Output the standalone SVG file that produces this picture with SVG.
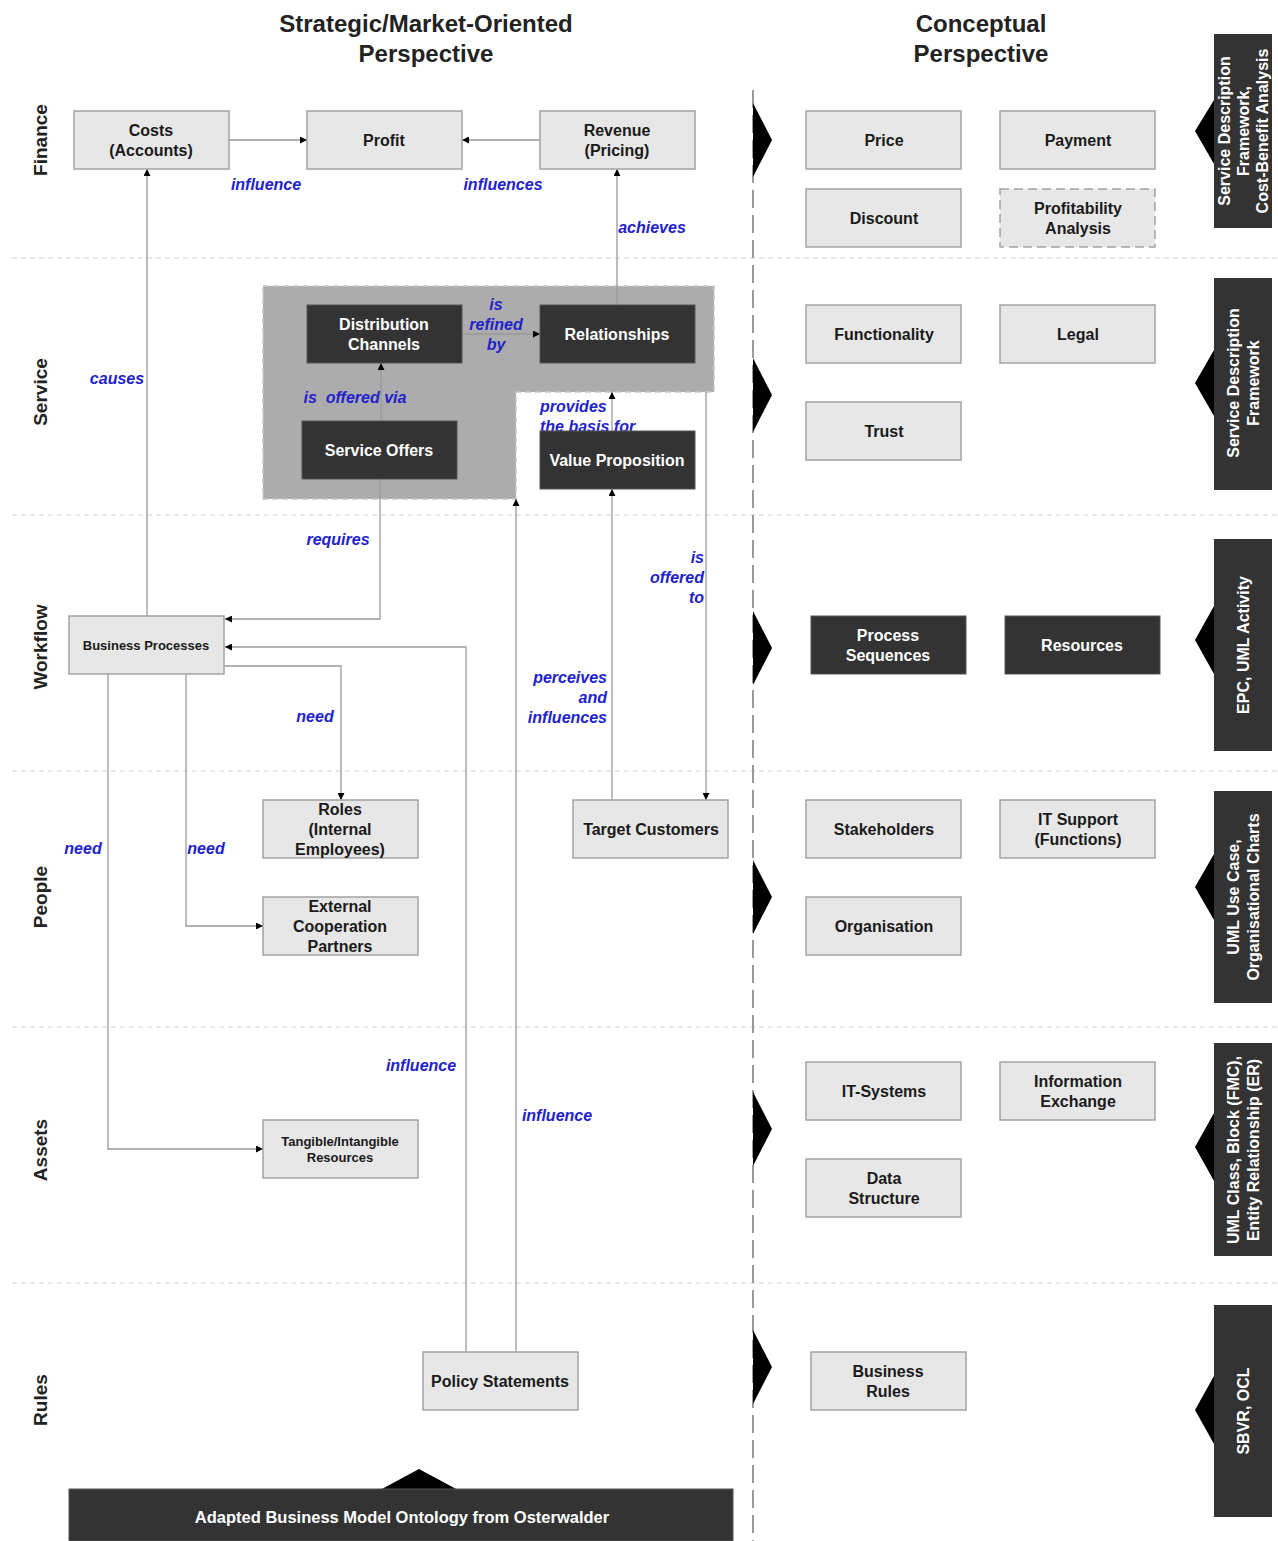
<svg xmlns="http://www.w3.org/2000/svg" width="1278" height="1541" viewBox="0 0 1278 1541">
<style>
text{font-family:"Liberation Sans",Arial,sans-serif;font-weight:bold}
.title{font-size:24px;fill:#222;text-anchor:middle}
.row{font-size:19px;fill:#222;text-anchor:middle;dominant-baseline:central}
.lb rect{fill:#e7e7e7;stroke:#a3a3a3;stroke-width:1.5}
.lb text{font-size:16px;fill:#1a1a1a;text-anchor:middle;dominant-baseline:central}
.db rect{fill:#333333;stroke:#555;stroke-width:1}
.db text{font-size:16px;fill:#ffffff;text-anchor:middle;dominant-baseline:central}
.tool rect{fill:#333333}
.tool text{font-size:16px;fill:#ffffff;text-anchor:middle;dominant-baseline:central}
.lbl{font-size:16px;font-style:italic;fill:#2222cc}
.c path{fill:none;stroke:#9a9a9a;stroke-width:1.3}
.sep{stroke:#d0d0d0;stroke-width:1.2;stroke-dasharray:5 4}
</style>
<defs>
<marker id="ar" viewBox="0 0 10 10" refX="10" refY="5" markerWidth="10" markerHeight="7" markerUnits="userSpaceOnUse" orient="auto">
<path d="M0,0 L10,5 L0,10 z" fill="#000"/>
</marker>
</defs>
<rect width="1278" height="1541" fill="#ffffff"/>

<!-- titles -->
<text class="title" x="426" y="32">Strategic/Market-Oriented</text>
<text class="title" x="426" y="62">Perspective</text>
<text class="title" x="981" y="32">Conceptual</text>
<text class="title" x="981" y="62">Perspective</text>

<!-- separators -->
<g id="separators">
<line class="sep" x1="12" y1="258" x2="1278" y2="258"/>
<line class="sep" x1="12" y1="515" x2="1278" y2="515"/>
<line class="sep" x1="12" y1="771" x2="1278" y2="771"/>
<line class="sep" x1="12" y1="1027" x2="1278" y2="1027"/>
<line class="sep" x1="12" y1="1283" x2="1278" y2="1283"/>
<line x1="753" y1="90" x2="753" y2="1541" stroke="#9a9a9a" stroke-width="2" stroke-dasharray="18 7"/>
<polygon points="753,103 772,140 753,177" fill="#000"/>
<polygon points="753,358 772,395 753,432" fill="#000"/>
<polygon points="753,611 772,648 753,685" fill="#000"/>
<polygon points="753,860 772,897 753,934" fill="#000"/>
<polygon points="753,1092 772,1129 753,1166" fill="#000"/>
<polygon points="753,1330 772,1367 753,1404" fill="#000"/>
</g>

<!-- row labels -->
<g id="rows">
<text class="row" transform="translate(40,140) rotate(-90)">Finance</text>
<text class="row" transform="translate(40,392) rotate(-90)">Service</text>
<text class="row" transform="translate(40,647) rotate(-90)">Workflow</text>
<text class="row" transform="translate(40,897) rotate(-90)">People</text>
<text class="row" transform="translate(40,1150) rotate(-90)">Assets</text>
<text class="row" transform="translate(40,1400) rotate(-90)">Rules</text>
</g>

<!-- gray service region -->
<path id="service-region" d="M263,286 H714 V392 H516 V499 H263 Z" fill="#acacac" stroke="#c8c8c8" stroke-width="1.5" stroke-dasharray="6 4"/>

<!-- connectors -->
<g id="connectors" class="c">
<path d="M229,140 H307" marker-end="url(#ar)"/>
<path d="M540,140 H462" marker-end="url(#ar)"/>
<path d="M617,305 V169" marker-end="url(#ar)"/>
<path d="M147,616 V169" marker-end="url(#ar)"/>
<path d="M462,334 H540" marker-end="url(#ar)"/>
<path d="M381,421 V363" marker-end="url(#ar)"/>
<path d="M612,431 V392" marker-end="url(#ar)"/>
<path d="M380,479 V619 H225" marker-end="url(#ar)"/>
<path d="M706,392 V800" marker-end="url(#ar)"/>
<path d="M612,800 V489" marker-end="url(#ar)"/>
<path d="M466,1352 V647 H225" marker-end="url(#ar)"/>
<path d="M516,1352 V499" marker-end="url(#ar)"/>
<path d="M224,666 H341 V800" marker-end="url(#ar)"/>
<path d="M186,674 V926 H263" marker-end="url(#ar)"/>
<path d="M108,674 V1149 H263" marker-end="url(#ar)"/>
</g>

<!-- connector labels -->
<g id="labels">
<text class="lbl" x="266" y="190" text-anchor="middle">influence</text>
<text class="lbl" x="503" y="190" text-anchor="middle">influences</text>
<text class="lbl" x="652" y="233" text-anchor="middle">achieves</text>
<text class="lbl" x="117" y="384" text-anchor="middle">causes</text>
<text class="lbl" x="496" y="310" text-anchor="middle">is</text>
<text class="lbl" x="496" y="330" text-anchor="middle">refined</text>
<text class="lbl" x="496" y="350" text-anchor="middle">by</text>
<text class="lbl" x="355" y="403" text-anchor="middle" xml:space="preserve">is  offered via</text>
<text class="lbl" x="540" y="412">provides</text>
<text class="lbl" x="540" y="432">the basis for</text>
<text class="lbl" x="338" y="545" text-anchor="middle">requires</text>
<text class="lbl" x="704" y="563" text-anchor="end">is</text>
<text class="lbl" x="704" y="583" text-anchor="end">offered</text>
<text class="lbl" x="704" y="603" text-anchor="end">to</text>
<text class="lbl" x="607" y="683" text-anchor="end">perceives</text>
<text class="lbl" x="607" y="703" text-anchor="end">and</text>
<text class="lbl" x="607" y="723" text-anchor="end">influences</text>
<text class="lbl" x="315" y="722" text-anchor="middle">need</text>
<text class="lbl" x="83" y="854" text-anchor="middle">need</text>
<text class="lbl" x="206" y="854" text-anchor="middle">need</text>
<text class="lbl" x="421" y="1071" text-anchor="middle">influence</text>
<text class="lbl" x="557" y="1121" text-anchor="middle">influence</text>
</g>

<!-- strategic nodes -->
<g id="costs" class="lb"><rect x="74" y="111" width="155" height="58"/><text x="151" y="130">Costs</text><text x="151" y="150">(Accounts)</text></g>
<g id="profit" class="lb"><rect x="307" y="111" width="155" height="58"/><text x="384" y="140">Profit</text></g>
<g id="revenue" class="lb"><rect x="540" y="111" width="155" height="58"/><text x="617" y="130">Revenue</text><text x="617" y="150">(Pricing)</text></g>
<g id="distribution-channels" class="db"><rect x="307" y="305" width="155" height="58"/><text x="384" y="324">Distribution</text><text x="384" y="344">Channels</text></g>
<g id="relationships" class="db"><rect x="540" y="305" width="155" height="58"/><text x="617" y="334">Relationships</text></g>
<g id="service-offers" class="db"><rect x="302" y="421" width="155" height="58"/><text x="379" y="450">Service Offers</text></g>
<g id="value-proposition" class="db"><rect x="540" y="431" width="155" height="58"/><text x="617" y="460">Value Proposition</text></g>
<g id="business-processes" class="lb"><rect x="69" y="616" width="155" height="58"/><text x="146" y="645" style="font-size:13px">Business Processes</text></g>
<g id="roles" class="lb"><rect x="263" y="800" width="155" height="58"/><text x="340" y="809">Roles</text><text x="340" y="829">(Internal</text><text x="340" y="849">Employees)</text></g>
<g id="external-partners" class="lb"><rect x="263" y="897" width="155" height="58"/><text x="340" y="906">External</text><text x="340" y="926">Cooperation</text><text x="340" y="946">Partners</text></g>
<g id="target-customers" class="lb"><rect x="573" y="800" width="155" height="58"/><text x="651" y="829">Target Customers</text></g>
<g id="resources-tangible" class="lb"><rect x="263" y="1120" width="155" height="58"/><text x="340" y="1141" style="font-size:13px">Tangible/Intangible</text><text x="340" y="1157" style="font-size:13px">Resources</text></g>
<g id="policy-statements" class="lb"><rect x="423" y="1352" width="155" height="58"/><text x="500" y="1381">Policy Statements</text></g>

<!-- bottom bar -->
<g id="osterwalder" class="db">
<polygon points="380,1490 419,1469 458,1490" fill="#000"/>
<rect x="69" y="1489" width="664" height="52" fill="#333" stroke="none"/>
<text x="402" y="1517" style="font-size:16.5px">Adapted Business Model Ontology from Osterwalder</text>
</g>

<!-- conceptual nodes -->
<g id="price" class="lb"><rect x="806" y="111" width="155" height="58"/><text x="884" y="140">Price</text></g>
<g id="payment" class="lb"><rect x="1000" y="111" width="155" height="58"/><text x="1078" y="140">Payment</text></g>
<g id="discount" class="lb"><rect x="806" y="189" width="155" height="58"/><text x="884" y="218">Discount</text></g>
<g id="profitability" class="lb"><rect x="1000" y="189" width="155" height="58" style="stroke-dasharray:9 5"/><text x="1078" y="208">Profitability</text><text x="1078" y="228">Analysis</text></g>
<g id="functionality" class="lb"><rect x="806" y="305" width="155" height="58"/><text x="884" y="334">Functionality</text></g>
<g id="legal" class="lb"><rect x="1000" y="305" width="155" height="58"/><text x="1078" y="334">Legal</text></g>
<g id="trust" class="lb"><rect x="806" y="402" width="155" height="58"/><text x="884" y="431">Trust</text></g>
<g id="process-sequences" class="db"><rect x="811" y="616" width="155" height="58"/><text x="888" y="635">Process</text><text x="888" y="655">Sequences</text></g>
<g id="resources" class="db"><rect x="1005" y="616" width="155" height="58"/><text x="1082" y="645">Resources</text></g>
<g id="stakeholders" class="lb"><rect x="806" y="800" width="155" height="58"/><text x="884" y="829">Stakeholders</text></g>
<g id="it-support" class="lb"><rect x="1000" y="800" width="155" height="58"/><text x="1078" y="819">IT Support</text><text x="1078" y="839">(Functions)</text></g>
<g id="organisation" class="lb"><rect x="806" y="897" width="155" height="58"/><text x="884" y="926">Organisation</text></g>
<g id="it-systems" class="lb"><rect x="806" y="1062" width="155" height="58"/><text x="884" y="1091">IT-Systems</text></g>
<g id="information-exchange" class="lb"><rect x="1000" y="1062" width="155" height="58"/><text x="1078" y="1081">Information</text><text x="1078" y="1101">Exchange</text></g>
<g id="data-structure" class="lb"><rect x="806" y="1159" width="155" height="58"/><text x="884" y="1178">Data</text><text x="884" y="1198">Structure</text></g>
<g id="business-rules" class="lb"><rect x="811" y="1352" width="155" height="58"/><text x="888" y="1371">Business</text><text x="888" y="1391">Rules</text></g>

<!-- notation boxes -->
<g id="tool-finance" class="tool">
<polygon points="1214,100 1195,131 1214,164" fill="#000"/>
<rect x="1214" y="34" width="58" height="194"/>
<g transform="translate(1243,131) rotate(-90)"><text x="0" y="-19">Service Description</text><text x="0" y="0">Framework,</text><text x="0" y="19">Cost-Benefit Analysis</text></g>
</g>
<g id="tool-service" class="tool">
<polygon points="1214,350 1195,383 1214,416" fill="#000"/>
<rect x="1214" y="278" width="58" height="212"/>
<g transform="translate(1243,383) rotate(-90)"><text x="0" y="-10">Service Description</text><text x="0" y="10">Framework</text></g>
</g>
<g id="tool-workflow" class="tool">
<polygon points="1214,606 1195,640 1214,674" fill="#000"/>
<rect x="1214" y="539" width="58" height="212"/>
<g transform="translate(1243,645) rotate(-90)"><text x="0" y="0">EPC, UML Activity</text></g>
</g>
<g id="tool-people" class="tool">
<polygon points="1214,854 1195,887 1214,920" fill="#000"/>
<rect x="1214" y="791" width="58" height="212"/>
<g transform="translate(1243,897) rotate(-90)"><text x="0" y="-10">UML Use Case,</text><text x="0" y="10">Organisational Charts</text></g>
</g>
<g id="tool-assets" class="tool">
<polygon points="1214,1113 1195,1147 1214,1181" fill="#000"/>
<rect x="1214" y="1043" width="58" height="213"/>
<g transform="translate(1243,1150) rotate(-90)"><text x="0" y="-10">UML Class, Block (FMC),</text><text x="0" y="10">Entity Relationship (ER)</text></g>
</g>
<g id="tool-rules" class="tool">
<polygon points="1214,1376 1195,1410 1214,1444" fill="#000"/>
<rect x="1214" y="1305" width="58" height="212"/>
<g transform="translate(1243,1411) rotate(-90)"><text x="0" y="0">SBVR, OCL</text></g>
</g>
</svg>
